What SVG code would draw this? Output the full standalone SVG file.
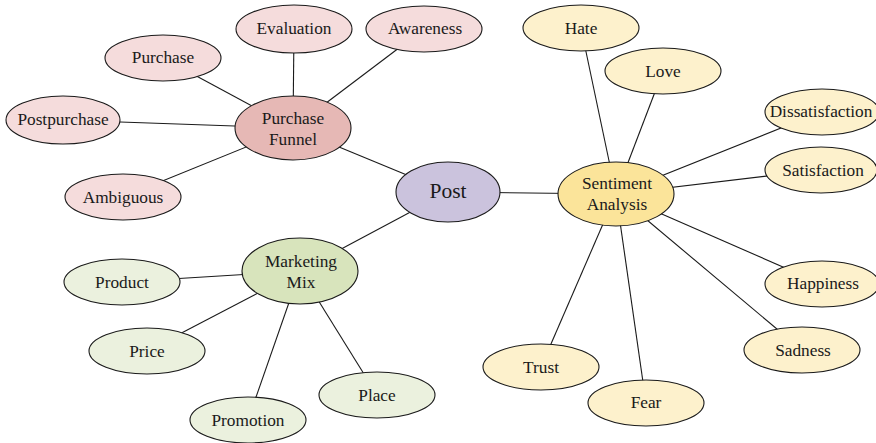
<svg xmlns="http://www.w3.org/2000/svg" width="876" height="443" viewBox="0 0 876 443">
<style>
.n ellipse{stroke:#1a1a1a;stroke-width:1.1}
.pink{fill:#f5dcdc}.pf{fill:#e6b8b5}.post{fill:#cbc3dd}.sa{fill:#fbe49a}.yel{fill:#fdf1cc}.mm{fill:#d8e4bc}.grn{fill:#ebf1de}
text{font-family:"Liberation Serif","Times New Roman",serif;font-size:17.3px;fill:#1a1a1a;text-anchor:middle;dominant-baseline:central}
.big{font-size:21.5px}
#edges line{stroke:#1a1a1a;stroke-width:1.1}
</style>
<rect width="876" height="443" fill="#fff"/>
<g id="edges">
<line x1="294" y1="29" x2="293" y2="128"/>
<line x1="424" y1="29" x2="293" y2="128"/>
<line x1="163" y1="58" x2="293" y2="128"/>
<line x1="63" y1="120" x2="293" y2="128"/>
<line x1="123" y1="197" x2="293" y2="128"/>
<line x1="293" y1="128" x2="448" y2="192"/>
<line x1="448" y1="192" x2="616" y2="194"/>
<line x1="448" y1="192" x2="300" y2="271"/>
<line x1="581" y1="28" x2="616" y2="194"/>
<line x1="663" y1="71" x2="616" y2="194"/>
<line x1="821" y1="112" x2="616" y2="194"/>
<line x1="818" y1="170" x2="616" y2="194"/>
<line x1="822" y1="284" x2="616" y2="194"/>
<line x1="802" y1="350" x2="616" y2="194"/>
<line x1="541" y1="367" x2="616" y2="194"/>
<line x1="646" y1="403" x2="616" y2="194"/>
<line x1="122" y1="282" x2="300" y2="271"/>
<line x1="147" y1="351" x2="300" y2="271"/>
<line x1="248" y1="420" x2="300" y2="271"/>
<line x1="377" y1="395" x2="300" y2="271"/>
</g>
<g id="evaluation" class="n"><ellipse class="pink" cx="294" cy="29" rx="58" ry="24"/><text x="294" y="28">Evaluation</text></g>
<g id="awareness" class="n"><ellipse class="pink" cx="424" cy="29" rx="58" ry="23"/><text x="425" y="28">Awareness</text></g>
<g id="purchase" class="n"><ellipse class="pink" cx="163" cy="58" rx="58" ry="23"/><text x="163" y="57">Purchase</text></g>
<g id="postpurchase" class="n"><ellipse class="pink" cx="63" cy="120" rx="57" ry="24"/><text x="63" y="119">Postpurchase</text></g>
<g id="ambiguous" class="n"><ellipse class="pink" cx="123" cy="197" rx="58" ry="23"/><text x="123" y="197">Ambiguous</text></g>
<g id="purchase-funnel" class="n"><ellipse class="pf" cx="293" cy="128" rx="58" ry="32"/><text x="293" y="118">Purchase</text><text x="293" y="139">Funnel</text></g>
<g id="post" class="n"><ellipse class="post" cx="448" cy="192" rx="52" ry="30"/><text class="big" x="448" y="191">Post</text></g>
<g id="sentiment-analysis" class="n"><ellipse class="sa" cx="616" cy="194" rx="58" ry="32"/><text x="617" y="183">Sentiment</text><text x="617" y="204">Analysis</text></g>
<g id="hate" class="n"><ellipse class="yel" cx="581" cy="28" rx="58" ry="23"/><text x="581" y="28">Hate</text></g>
<g id="love" class="n"><ellipse class="yel" cx="663" cy="71" rx="58" ry="23"/><text x="663" y="71">Love</text></g>
<g id="dissatisfaction" class="n"><ellipse class="yel" cx="822" cy="112" rx="57" ry="23"/><text x="821" y="111">Dissatisfaction</text></g>
<g id="satisfaction" class="n"><ellipse class="yel" cx="821" cy="170" rx="56" ry="23"/><text x="823" y="170">Satisfaction</text></g>
<g id="happiness" class="n"><ellipse class="yel" cx="822" cy="284" rx="57" ry="23"/><text x="823" y="283">Happiness</text></g>
<g id="sadness" class="n"><ellipse class="yel" cx="802" cy="350" rx="58" ry="23"/><text x="803" y="350">Sadness</text></g>
<g id="trust" class="n"><ellipse class="yel" cx="541" cy="367" rx="58" ry="23"/><text x="541" y="367">Trust</text></g>
<g id="fear" class="n"><ellipse class="yel" cx="646" cy="403" rx="58" ry="23"/><text x="646" y="402">Fear</text></g>
<g id="marketing-mix" class="n"><ellipse class="mm" cx="300" cy="271" rx="58" ry="33"/><text x="301" y="261">Marketing</text><text x="301" y="282">Mix</text></g>
<g id="product" class="n"><ellipse class="grn" cx="122" cy="282" rx="58" ry="23"/><text x="122" y="282">Product</text></g>
<g id="price" class="n"><ellipse class="grn" cx="147" cy="351" rx="58" ry="23"/><text x="147" y="351">Price</text></g>
<g id="promotion" class="n"><ellipse class="grn" cx="248" cy="420" rx="58" ry="23"/><text x="248" y="420">Promotion</text></g>
<g id="place" class="n"><ellipse class="grn" cx="377" cy="395" rx="58" ry="23"/><text x="377" y="395">Place</text></g>
</svg>
